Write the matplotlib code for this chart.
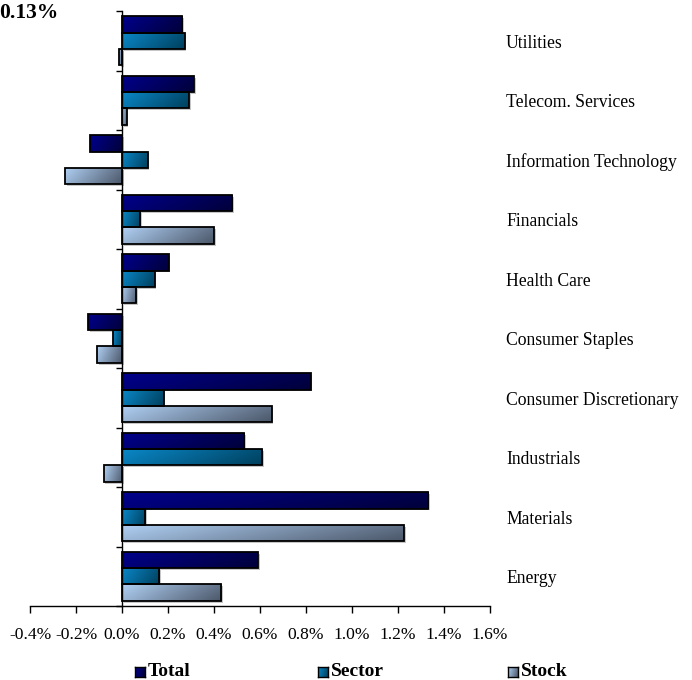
import numpy as np
import matplotlib
matplotlib.use("Agg")
import matplotlib.pyplot as plt
from matplotlib.ticker import FuncFormatter, MultipleLocator
import matplotlib.transforms as mtransforms

plt.rcParams['font.family'] = ['Liberation Serif', 'DejaVu Serif']

# Sector attribution (percent), listed top to bottom
sectors = ["Utilities", "Telecom. Services", "Information Technology", "Financials",
           "Health Care", "Consumer Staples", "Consumer Discretionary", "Industrials",
           "Materials", "Energy"]
total = [0.263, 0.312, -0.139, 0.480, 0.203, -0.149, 0.820, 0.532, 1.331, 0.591]
sector = [0.272, 0.290, 0.111, 0.080, 0.142, -0.039, 0.181, 0.610, 0.101, 0.161]
stock = [-0.012, 0.020, -0.247, 0.400, 0.062, -0.108, 0.650, -0.080, 1.226, 0.431]
series_names = ["Total", "Sector", "Stock"]
headline = "0.13%"

# light -> dark gradient end colours per series
grad_colors = [("#00008c", "#00003a"),
               ("#0a88c8", "#00405e"),
               ("#b0d0f4", "#4c586a")]

fig = plt.figure(figsize=(6.92, 6.80), dpi=100)
ax = fig.add_axes([30 / 692, 1 - 606 / 680, (490 - 30) / 692, (606 - 11) / 680])

n = len(sectors)
y = np.arange(n)
h = 0.275
offsets = [-h, 0.0, h]


def gradient_image(c0, c1, nx=64, ny=16):
    a = np.array(matplotlib.colors.to_rgb(c0))
    b = np.array(matplotlib.colors.to_rgb(c1))
    u = np.linspace(0, 1, nx)[None, :]
    v = np.linspace(0, 1, ny)[:, None]
    t = np.clip(0.78 * u + 0.22 * v, 0, 1)
    return a[None, None, :] * (1 - t[..., None]) + b[None, None, :] * t[..., None]


shadow_tr = mtransforms.offset_copy(ax.transData, fig=fig, x=1.3, y=-1.3, units="points")

for vals, off, (c0, c1) in zip([total, sector, stock], offsets, grad_colors):
    # soft drop shadow underneath
    ax.barh(y + off, vals, height=h, facecolor="#a0a0a0", edgecolor="none",
            alpha=0.6, zorder=2, transform=shadow_tr)
    bars = ax.barh(y + off, vals, height=h, facecolor="none", edgecolor="black",
                   linewidth=1.3, zorder=3)
    img = gradient_image(c0, c1)
    for bar in bars:
        x0, yb, w, hh = bar.get_x(), bar.get_y(), bar.get_width(), bar.get_height()
        xl, xr = min(x0, x0 + w), max(x0, x0 + w)
        im = ax.imshow(img, extent=[xl, xr, yb + hh, yb], aspect="auto",
                       interpolation="bilinear", zorder=2.5)
        im.set_clip_path(bar)

ax.set_xlim(-0.4, 1.6)
ax.set_ylim(n - 0.5, -0.5)

# axes styling
for s in ["top", "right"]:
    ax.spines[s].set_visible(False)
ax.spines["left"].set_position(("data", 0))
ax.spines["left"].set_linewidth(1.0)
ax.spines["left"].set_zorder(4)
ax.spines["bottom"].set_linewidth(1.0)
ax.set_yticks(np.arange(-0.5, n, 1.0))
ax.set_yticklabels([])
ax.tick_params(axis="y", direction="out", length=4, width=1.0)
ax.xaxis.set_major_locator(MultipleLocator(0.2))
ax.xaxis.set_major_formatter(FuncFormatter(lambda v, p: f"{v:.1f}%"))
ax.tick_params(axis="x", direction="out", length=5, width=1.0, pad=10, labelsize=12.6)

# category labels on the right
lab_tr = mtransforms.offset_copy(
    mtransforms.blended_transform_factory(fig.transFigure, ax.transData),
    fig=fig, x=0, y=-2.5, units="dots")
for i, name in enumerate(sectors):
    ax.text(506 / 692, i, name, transform=lab_tr, ha="left", va="center", fontsize=12.7)

# headline value
fig.text(-1 / 692, 1 - 13 / 680, headline, ha="left", va="center", fontsize=15.5,
         fontweight="bold")

# legend with small gradient swatches
leg_x = [135, 318, 508]
for name, xpx, (c0, c1) in zip(series_names, leg_x, grad_colors):
    sw = fig.add_axes([xpx / 692, 1 - 677 / 680, 10 / 692, 10 / 680])
    sw.imshow(gradient_image(c0, c1, 16, 16), aspect="auto", interpolation="bilinear")
    sw.set_xticks([])
    sw.set_yticks([])
    for sp in sw.spines.values():
        sp.set_linewidth(1.0)
    fig.text((xpx + 13) / 692, 1 - 672 / 680, name, ha="left", va="center",
             fontsize=14, fontweight="bold")

fig.savefig("out.png", dpi=100)
